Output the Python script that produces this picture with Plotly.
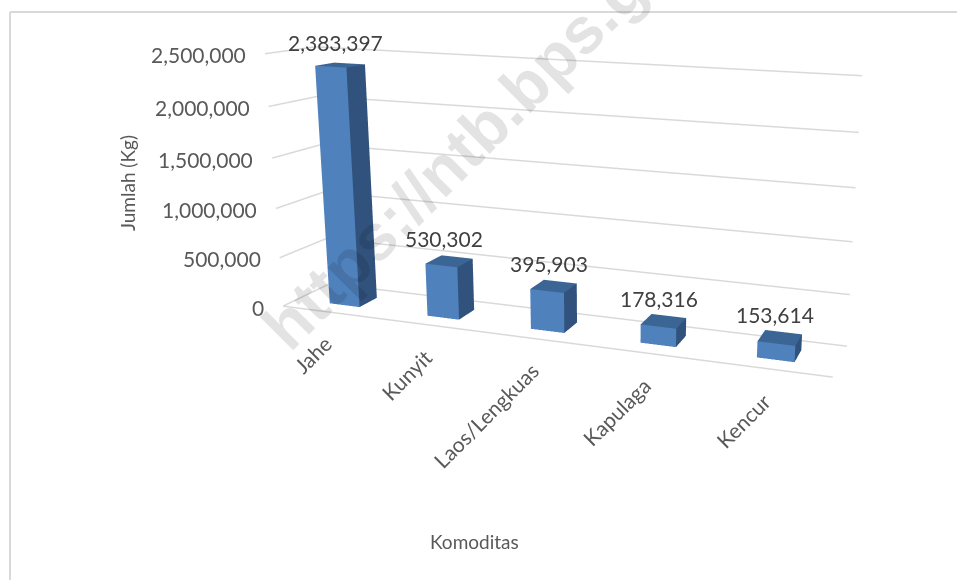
import plotly.graph_objects as go

categories = ["Jahe", "Kunyit", "Laos/Lengkuas", "Kapulaga", "Kencur"]
values = [2383397, 530302, 395903, 178316, 153614]
ticks = [0, 500000, 1000000, 1500000, 2000000, 2500000]
ZMAX = 2500000

# The figure is larger than the window and shifted, so the 3D camera has the
# focal length and view centre of the original perspective.
W, H = 1392, 901
LEFT, TOP_ = 0, -247
eye = dict(x=1.1952, y=-2.6913, z=0.6931)
center = dict(x=0.3751, y=0.1218, z=-0.0085)
up = dict(x=-0.0848, y=0.2178, z=0.9723)
aspect = dict(x=1.6293, y=0.2306, z=0.7392)
BAR_W, D0, D1 = 0.3110, 0.2912, 0.6869

FRONT, SIDE, TOPC = "#4f81bd", "#31527c", "#3b6595"
GRID = "#d9d9d9"
AXIS_TEXT = "#595959"
LABEL_TEXT = "#404040"
FONT = "Lato"


def px(x):
    return (x - LEFT) / W


def py(y):
    return 1 - (y - TOP_) / H


fig = go.Figure()


def add_bar(i, v):
    x0, x1 = i + .5 - BAR_W / 2, i + .5 + BAR_W / 2
    fig.add_trace(go.Mesh3d(
        x=[x0, x1, x1, x0, x0, x1, x1, x0],
        y=[D0, D0, D1, D1, D0, D0, D1, D1],
        z=[0, 0, 0, 0, v, v, v, v],
        i=[0, 0, 1, 1, 4, 4], j=[1, 5, 2, 6, 5, 6], k=[5, 4, 6, 5, 6, 7],
        facecolor=[FRONT, FRONT, SIDE, SIDE, TOPC, TOPC], flatshading=True,
        lighting=dict(ambient=1, diffuse=0, specular=0, fresnel=0),
        hoverinfo="skip", showscale=False))


grid_line = dict(color=GRID, width=3)
for t in ticks:
    fig.add_trace(go.Scatter3d(x=[0, 0, 5], y=[0, 1, 1], z=[t, t, t], mode="lines",
                               line=grid_line, hoverinfo="skip", showlegend=False))
fig.add_trace(go.Scatter3d(x=[0, 5], y=[0, 0], z=[0, 0], mode="lines",
                           line=grid_line, hoverinfo="skip", showlegend=False))
for i, v in enumerate(values):
    add_bar(i, v)

scene_ann = []
for t in ticks:
    scene_ann.append(dict(x=0, y=0, z=t, text=f"{t:,}", showarrow=False, xanchor="right",
                          xshift=-17, yshift=-1, font=dict(family=FONT, size=21, color=AXIS_TEXT)))
for i, (n, v) in enumerate(zip(categories, values)):
    scene_ann.append(dict(x=i + .5, y=0, z=0, text=n, showarrow=False, textangle=-45,
                          xanchor="right", yanchor="top", xshift=8, yshift=-16,
                          font=dict(family=FONT, size=21, color=AXIS_TEXT)))
    scene_ann.append(dict(x=i + .5, y=(D0 + D1) / 2, z=v, text=f"{v:,}", showarrow=False,
                          yanchor="middle", yshift=23, xshift=-5,
                          font=dict(family=FONT, size=21, color=LABEL_TEXT)))

hidden = dict(visible=False, showspikes=False)
frame = dict(color=GRID, width=2)
fig.update_layout(
    width=W, height=H, margin=dict(l=0, r=0, t=0, b=0), paper_bgcolor="white", showlegend=False,
    shapes=[
        dict(type="line", xref="paper", yref="paper", x0=px(10), x1=px(10), y0=py(12), y1=py(600), line=frame),
        dict(type="line", xref="paper", yref="paper", x0=px(10), x1=px(980), y0=py(12), y1=py(12), line=frame),
    ],
    scene=dict(
        domain=dict(x=[0, 1], y=[0, 1]), aspectmode="manual", aspectratio=aspect,
        xaxis=dict(range=[0, 5], **hidden), yaxis=dict(range=[0, 1], **hidden),
        zaxis=dict(range=[0, ZMAX], **hidden),
        camera=dict(projection=dict(type="perspective"), eye=eye, center=center, up=up),
        annotations=scene_ann),
    annotations=[
        dict(x=px(454), y=py(157), xref="paper", yref="paper", xanchor="center", yanchor="middle",
             text="<b>https://ntb.bps.g</b>", textangle=-45, showarrow=False,
             font=dict(family="Liberation Sans", size=65, color="rgba(0,0,0,0.11)")),
        dict(x=px(128), y=py(183), xref="paper", yref="paper", xanchor="center", yanchor="middle",
             text="Jumlah (Kg)", textangle=-90, showarrow=False,
             font=dict(family=FONT, size=19, color=AXIS_TEXT)),
        dict(x=px(474), y=py(541), xref="paper", yref="paper", xanchor="center", yanchor="middle",
             text="Komoditas", showarrow=False, font=dict(family=FONT, size=19, color=AXIS_TEXT)),
    ])
post = ("document.body.style.margin='0';document.documentElement.style.overflow='hidden';"
        "document.body.style.overflow='hidden';"
        "var g=document.getElementById('{plot_id}');g.style.position='absolute';"
        "g.style.left='%dpx';g.style.top='%dpx';" % (LEFT, TOP_))
fig.write_html("out.html", post_script=post)
